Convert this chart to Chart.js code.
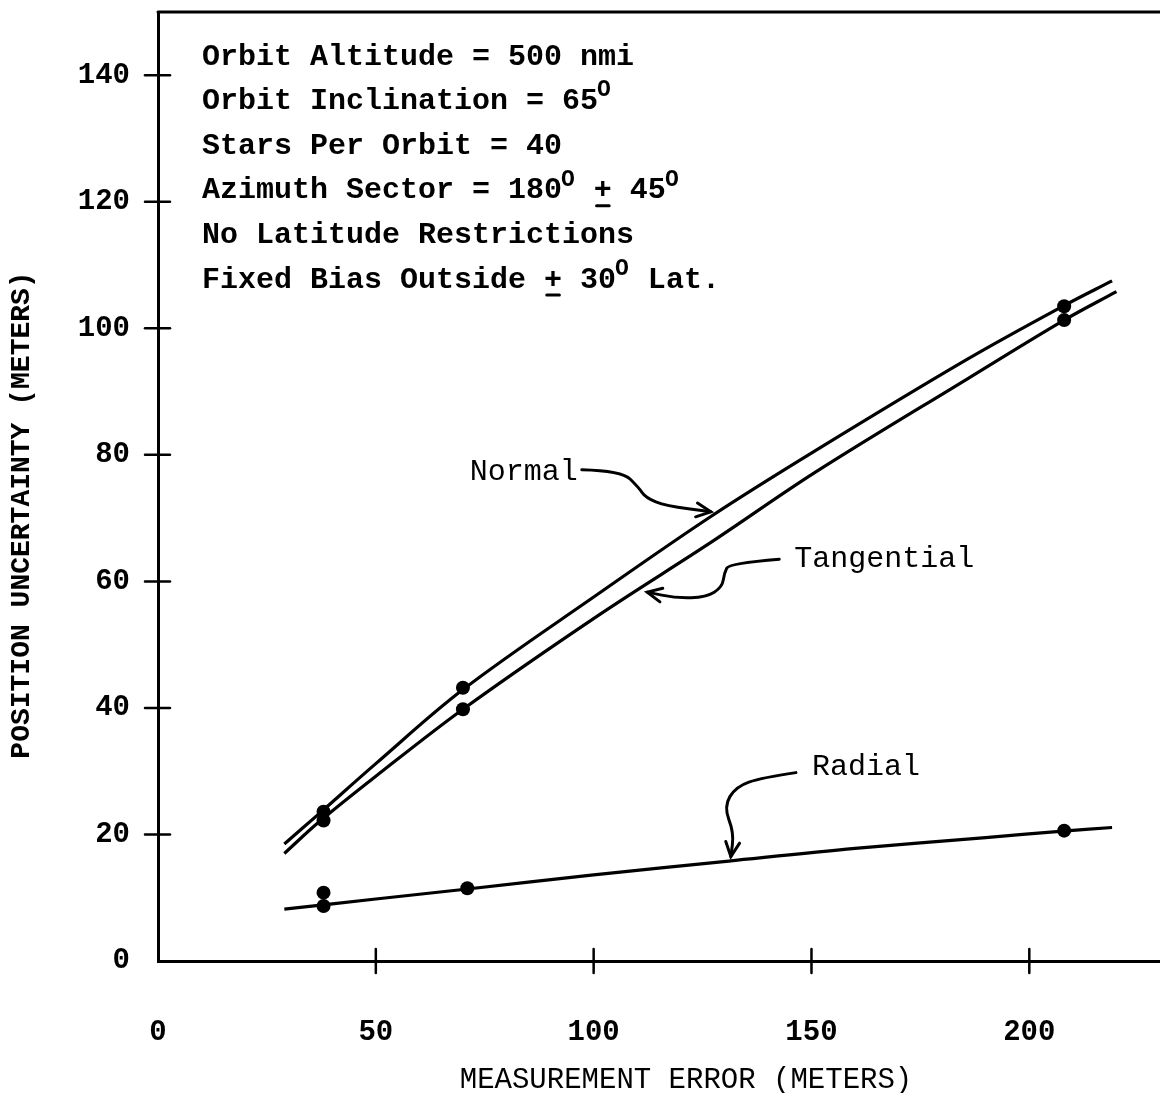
<!DOCTYPE html>
<html><head><meta charset="utf-8">
<script src="https://cdn.jsdelivr.net/npm/chart.js@4.4.1/dist/chart.umd.min.js"></script>
<style>html,body{margin:0;padding:0;background:#fff;}</style>
</head><body>
<canvas id="c" width="1160" height="1093" style="width:1160px;height:1093px;display:block"></canvas>
<script>
// ---- data ----
const xTicks = [0, 50, 100, 150, 200];
const yTicks = [0, 20, 40, 60, 80, 100, 120, 140];

const normalCurveX = [29, 37, 50, 70, 101, 127, 151, 186, 208, 219];
const normalCurveY = [18.5, 23.3, 31.2, 42.9, 58, 70.3, 80.7, 95.2, 103.6, 107.5];
const tangentialCurveX = [29, 37, 50, 70, 101, 127, 151, 186, 208, 220];
const tangentialCurveY = [17, 22, 29.2, 39.8, 54.6, 66.2, 77.3, 92.1, 101.3, 105.8];
const radialCurveX = [29, 50, 70, 100, 131, 160, 190, 207, 219];
const radialCurveY = [8.2, 9.8, 11.3, 13.6, 15.8, 17.8, 19.5, 20.5, 21.1];

const normalPtsX = [38, 70, 208];
const normalPtsY = [23.6, 43.2, 103.5];
const tangentialPtsX = [38, 70, 208];
const tangentialPtsY = [22.2, 39.8, 101.3];
const radialPtsX = [38, 38, 71, 208];
const radialPtsY = [10.8, 8.7, 11.5, 20.6];

const xTitle = 'MEASUREMENT ERROR (METERS)';
const yTitle = 'POSITION UNCERTAINTY (METERS)';
const infoLines = [
  [{t:'Orbit Altitude = 500 nmi'}],
  [{t:'Orbit Inclination = 65'},{t:'O',sup:true}],
  [{t:'Stars Per Orbit = 40'}],
  [{t:'Azimuth Sector = 180'},{t:'O',sup:true},{t:' '},{t:'+',ul:true},{t:' 45'},{t:'O',sup:true}],
  [{t:'No Latitude Restrictions'}],
  [{t:'Fixed Bias Outside '},{t:'+',ul:true},{t:' 30'},{t:'O',sup:true},{t:' Lat.'}]
];
const seriesLabels = ['Normal', 'Tangential', 'Radial'];

const pts = (xs, ys) => xs.map((x, i) => ({x: x, y: ys[i]}));
const MONO = "'Liberation Mono', 'Courier New', monospace";

function curve(label, xs, ys) {
  return {label, data: pts(xs, ys), showLine: true, borderColor: '#000', borderWidth: 3.2,
    pointRadius: 0, tension: 0.35, cubicInterpolationMode: 'default', fill: false};
}
function dots(label, xs, ys) {
  return {label, data: pts(xs, ys), showLine: false, pointRadius: 7, pointHoverRadius: 7,
    backgroundColor: '#000', borderColor: '#000', borderWidth: 0};
}

function drawSegs(ctx, x, y, segs, size, weight) {
  let cx = x;
  segs.forEach(s => {
    if (s.sup) {
      ctx.font = weight + ' 23px ' + MONO;
      ctx.fillText(s.t, cx - 1, y - 11);
      cx += ctx.measureText(s.t).width;
    } else {
      ctx.font = weight + ' ' + size + 'px ' + MONO;
      ctx.fillText(s.t, cx, y);
      const w = ctx.measureText(s.t).width;
      if (s.ul) {
        ctx.save(); ctx.lineWidth = 3; ctx.beginPath();
        ctx.moveTo(cx + w * 0.15, y + size * 0.5); ctx.lineTo(cx + w * 0.85, y + size * 0.5);
        ctx.stroke(); ctx.restore();
      }
      cx += w;
    }
  });
}

function smoothPath(ctx, p) {
  ctx.beginPath();
  ctx.moveTo(p[0][0], p[0][1]);
  for (let i = 1; i < p.length - 1; i++) {
    const mx = (p[i][0] + p[i + 1][0]) / 2, my = (p[i][1] + p[i + 1][1]) / 2;
    ctx.quadraticCurveTo(p[i][0], p[i][1], mx, my);
  }
  const l = p[p.length - 1];
  ctx.lineTo(l[0], l[1]);
  ctx.stroke();
}
function arrowHead(ctx, tip, from, len) {
  const a = Math.atan2(tip[1] - from[1], tip[0] - from[0]);
  ctx.beginPath();
  ctx.moveTo(tip[0] - len * Math.cos(a - 0.45), tip[1] - len * Math.sin(a - 0.45));
  ctx.lineTo(tip[0], tip[1]);
  ctx.lineTo(tip[0] - len * Math.cos(a + 0.45), tip[1] - len * Math.sin(a + 0.45));
  ctx.stroke();
}

// annotations: anchored at the data point where the arrow touches the curve;
// text and arrow shape given as pixel offsets from that anchor
const annotations = [
  {label: seriesLabels[0], at: {x: 126.9, y: 71.0}, text: [-241, -40],
   path: [[-129,-42],[-89,-41],[-72,-24],[-65,-14],[-45,-6],[0,0]]},
  {label: seriesLabels[1], at: {x: 112.3, y: 58.3}, text: [147, -33],
   path: [[132,-33],[82,-29],[77,-19],[75,-5],[59,5],[29,6],[0,0]]},
  {label: seriesLabels[2], at: {x: 131.5, y: 16.5}, text: [81, -90],
   path: [[65,-84],[31,-79],[5,-70],[-7,-50],[3,-24],[0,0]]}
];

const decor = {
  id: 'decor',
  afterDraw(chart) {
    const ctx = chart.ctx, a = chart.chartArea;
    const xs = chart.scales.x, ys = chart.scales.y;
    ctx.save();
    ctx.strokeStyle = '#000'; ctx.fillStyle = '#000'; ctx.lineCap = 'round';
    // top frame line
    ctx.lineWidth = 3;
    ctx.beginPath(); ctx.moveTo(a.left, a.top); ctx.lineTo(a.right, a.top); ctx.stroke();
    // tick marks crossing the axes
    ctx.lineWidth = 2.5;
    yTicks.forEach(v => {
      if (v === 0) return;
      const y = ys.getPixelForValue(v);
      ctx.beginPath(); ctx.moveTo(a.left - 13, y); ctx.lineTo(a.left + 12, y); ctx.stroke();
    });
    xTicks.forEach(v => {
      if (v === 0) return;
      const x = xs.getPixelForValue(v);
      ctx.beginPath(); ctx.moveTo(x, a.bottom - 12); ctx.lineTo(x, a.bottom + 12); ctx.stroke();
    });
    // info block
    ctx.textBaseline = 'middle'; ctx.textAlign = 'left';
    const ix = a.left + 44, iy0 = a.top + 45, step = 44.6;
    infoLines.forEach((segs, i) => drawSegs(ctx, ix, iy0 + i * step, segs, 30, 'bold'));
    // annotations
    annotations.forEach(an => {
      const bx = xs.getPixelForValue(an.at.x), by = ys.getPixelForValue(an.at.y);
      ctx.font = '30px ' + MONO;
      ctx.textBaseline = 'middle'; ctx.textAlign = 'left';
      ctx.fillText(an.label, bx + an.text[0], by + an.text[1]);
      const p = an.path.map(q => [bx + q[0], by + q[1]]);
      ctx.lineWidth = 3;
      smoothPath(ctx, p);
      arrowHead(ctx, p[p.length - 1], p[p.length - 2], 16);
    });
    // axis titles
    ctx.textAlign = 'center'; ctx.textBaseline = 'middle';
    ctx.font = '29px ' + MONO;
    ctx.fillText(xTitle, 686, 1080);
    ctx.font = 'bold 28px ' + MONO;
    ctx.save(); ctx.translate(22, 515); ctx.rotate(-Math.PI / 2);
    ctx.fillText(yTitle, 0, 0); ctx.restore();
    ctx.restore();
  }
};

new Chart(document.getElementById('c'), {
  type: 'scatter',
  data: {
    datasets: [
      curve(seriesLabels[0], normalCurveX, normalCurveY),
      curve(seriesLabels[1], tangentialCurveX, tangentialCurveY),
      curve(seriesLabels[2], radialCurveX, radialCurveY),
      dots(seriesLabels[0] + ' points', normalPtsX, normalPtsY),
      dots(seriesLabels[1] + ' points', tangentialPtsX, tangentialPtsY),
      dots(seriesLabels[2] + ' points', radialPtsX, radialPtsY)
    ]
  },
  options: {
    responsive: false, animation: false, devicePixelRatio: 1,
    layout: {autoPadding: false, padding: {top: 12, right: 0, left: 0, bottom: 0}},
    plugins: {legend: {display: false}, tooltip: {enabled: false}},
    scales: {
      x: {
        type: 'linear', min: 0, max: 230,
        afterBuildTicks: s => { s.ticks = xTicks.map(v => ({value: v})); },
        afterFit: s => { s.height = 132; s.paddingLeft = 0; s.paddingRight = 0; },
        grid: {display: false, drawTicks: false},
        border: {display: true, color: '#000', width: 3},
        ticks: {color: '#000', padding: 54, maxRotation: 0, autoSkip: false,
          font: {family: MONO, size: 29, weight: 'bold'}}
      },
      y: {
        type: 'linear', min: 0, max: 150,
        afterBuildTicks: s => { s.ticks = yTicks.map(v => ({value: v})); },
        afterFit: s => { s.width = 158; s.paddingTop = 0; s.paddingBottom = 0; },
        grid: {display: false, drawTicks: false},
        border: {display: true, color: '#000', width: 3},
        ticks: {color: '#000', padding: 28, autoSkip: false,
          font: {family: MONO, size: 29, weight: 'bold'}}
      }
    }
  },
  plugins: [decor]
});
</script>
</body></html>
